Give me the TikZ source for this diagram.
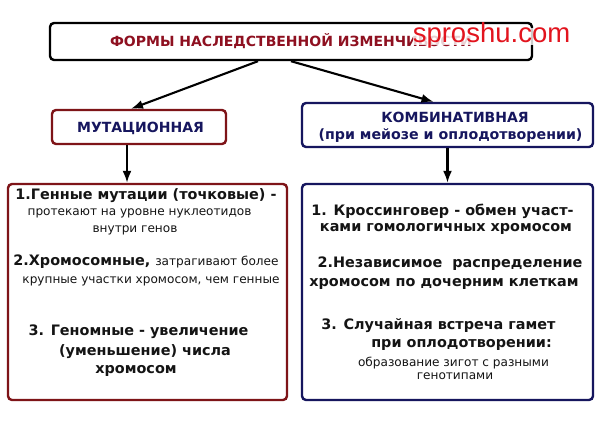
\documentclass[tikz,border=0pt]{standalone}
\usepackage{fontspec}
\setmainfont{DejaVu Sans}
\newfontfamily\wmfont{Liberation Sans}
\usetikzlibrary{arrows.meta,calc}
\definecolor{cRed}{HTML}{8E1020}
\definecolor{cRedBox}{HTML}{7E1418}
\definecolor{cNavy}{HTML}{16165E}
\definecolor{cText}{HTML}{141414}
\definecolor{cWm}{HTML}{E2141E}
\begin{document}
\begin{tikzpicture}[x=1pt,y=-1pt,
  box/.style={draw, line width=2.4pt, rounded corners=4pt, inner sep=0pt, fill=white},
  arr/.style={line width=2.1pt, -{Latex[length=12pt,width=9pt]}},
  bline/.style={anchor=base, inner sep=0pt, text=cText, font=\fontsize{14.4}{17}\selectfont\bfseries},
  sline/.style={anchor=base, inner sep=0pt, text=cText, font=\fontsize{12.1}{14}\selectfont},
  hdr/.style={anchor=base, inner sep=0pt, text=cNavy, font=\fontsize{14}{17}\selectfont\bfseries}
]
\useasboundingbox[fill=white] (0,0) rectangle (600,421);

% boxes
\node[box, draw=black, minimum width=482pt, minimum height=37pt, text=cRed,
      font=\fontsize{14}{17}\selectfont\bfseries] (title) at (291,41.5)
      {ФОРМЫ НАСЛЕДСТВЕННОЙ ИЗМЕНЧИВОСТИ};
\node[box, draw=cRedBox, minimum width=174pt, minimum height=34pt] (mut) at (139,127) {};
\node[box, draw=cNavy, minimum width=291pt, minimum height=44pt] (comb) at (447.5,125) {};
\node[box, draw=cRedBox, minimum width=279pt, minimum height=216pt] (lowL) at (147.5,292) {};
\node[box, draw=cNavy, minimum width=291pt, minimum height=216pt] (lowR) at (447.5,292) {};

% headers
\node[hdr] (mutT) at (140.5,132) {МУТАЦИОННАЯ};
\node[hdr] (combT1) at (455,122) {КОМБИНАТИВНАЯ};
\node[hdr, font=\fontsize{14.2}{17}\selectfont\bfseries] (combT2) at (450.5,139) {(при мейозе и оплодотворении)};

% connectors
\draw[arr] ([xshift=-33pt]title.south) -- ([xshift=-8pt]mut.north);
\draw[arr] (title.south) -- ([xshift=-14pt]comb.north);
\coordinate (mutout) at ([xshift=-12pt]mut.south);
\draw[arr] (mutout) -- (mutout |- lowL.north);
\draw[arr] (comb.south) -- (comb.south |- lowR.north);

% left box text
\node[bline] (l1) at (146,199) {1.Генные мутации (точковые) -};
\node[sline] (l2) at (139.5,215) {протекают на уровне нуклеотидов};
\node[sline] (l3) at (135,232) {внутри генов};
\node[bline] (l4) at (146,265) {2.Хромосомные, {\mdseries\fontsize{12.1}{14}\selectfont затрагивают более}};
\node[sline] (l5) at (151,283) {крупные участки хромосом, чем генные};
\node[bline] (l6) at (138.5,335) {3. Геномные - увеличение};
\node[bline] (l7) at (145,355) {(уменьшение) числа};
\node[bline] (l8) at (136,373) {хромосом};

% right box text
\node[bline] (r1) at (442.5,215) {1. Кроссинговер - обмен участ-};
\node[bline] (r2) at (446,231) {ками гомологичных хромосом};
\node[bline] (r3) at (450,267) {2.Независимое\ \ распределение};
\node[bline] (r4) at (444,286) {хромосом по дочерним клеткам};
\node[bline] (r5) at (438.5,329) {3. Случайная встреча гамет};
\node[bline] (r6) at (461.5,347) {при оплодотворении:};
\node[sline] (r7) at (453.5,366) {образование зигот с разными};
\node[sline] (r8) at (455,379) {генотипами};

% watermark
\node[anchor=base, inner sep=0pt, text height=14pt, text depth=3pt, fill=white, fill opacity=0.8,
      text=cWm, text opacity=1, font=\wmfont\fontsize{27.5}{30}\selectfont] (wm) at (491.5,42) {sproshu.com};
\end{tikzpicture}
\end{document}
